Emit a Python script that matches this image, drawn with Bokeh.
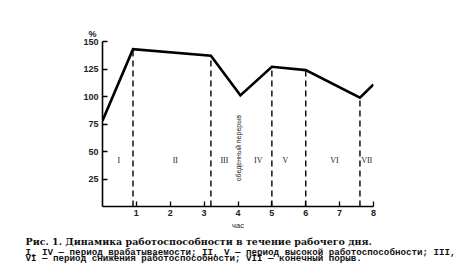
import numpy as np
from bokeh.plotting import figure
from bokeh.models import Range1d, FixedTicker, Label, Title
from bokeh.embed import file_html
from bokeh.resources import INLINE

# Data
hours = [0.0, 0.9, 3.2, 4.07, 5.0, 6.0, 7.6, 8.0]
performance = [78, 143, 137, 101, 127, 124, 99, 111]
boundary_idx = [1, 2, 4, 5, 6]           # curve points where period boundaries lie
period_names = ["I", "II", "III", "IV", "V", "VI", "VII"]
period_centers = [0.48, 2.15, 3.6, 4.6, 5.4, 6.85, 7.8]
x_ticks = [1, 2, 3, 4, 5, 6, 7, 8]
y_ticks = [25, 50, 75, 100, 125, 150]
lunch_label = "обеденный перерыв"
caption1 = "Рис. 1. Динамика работоспособности в течение рабочего дня."
caption2 = "I, IV — период врабатываемости; II, V — период высокой работоспособности; III,"
caption3 = "VI — период снижения работоспособности; VII — конечный порыв."

p = figure(width=470, height=276, output_backend="svg", toolbar_location=None,
           x_range=Range1d(0, 8), y_range=Range1d(0, 150),
           min_border_left=102, min_border_right=97, min_border_top=41, min_border_bottom=70)
p.outline_line_color = None
p.grid.visible = False

for ax in (p.xaxis, p.yaxis):
    ax.axis_line_width = 1.6
    ax.axis_line_color = "black"
    ax.major_tick_in = 5
    ax.major_tick_out = 0
    ax.major_tick_line_width = 1.3
    ax.minor_tick_line_color = None
    ax.major_label_text_font = "Liberation Sans"
    ax.major_label_text_font_style = "bold"
    ax.major_label_text_font_size = "9px"
    ax.major_label_text_color = "#222222"
p.xaxis.ticker = FixedTicker(ticks=x_ticks)
p.yaxis.ticker = FixedTicker(ticks=y_ticks)
p.xaxis.major_label_standoff = 3
p.yaxis.major_label_standoff = 4
p.xaxis.axis_label = "час"
p.xaxis.axis_label_text_font = "Liberation Sans"
p.xaxis.axis_label_text_font_style = "normal"
p.xaxis.axis_label_text_font_size = "7.5px"
p.xaxis.axis_label_text_color = "#222222"
p.xaxis.axis_label_standoff = 2

# dashed boundary lines
bx = [hours[i] for i in boundary_idx]
by = [performance[i] for i in boundary_idx]
p.segment(x0=bx, y0=[0] * len(bx), x1=bx, y1=by, line_color="black",
          line_width=1.4, line_dash="6 4")

# main curve
p.line(hours, performance, line_color="black", line_width=2.6, line_join="miter")


def lab(x, y, text, **kw):
    opts = dict(text_font="Liberation Serif", text_font_size="8px", text_align="center",
                text_baseline="middle", text_color="#222222")
    opts.update(kw)
    p.add_layout(Label(x=x, y=y, text=text, **opts))


# period labels
for name, cx in zip(period_names, period_centers):
    lab(cx, 42, name)

# lunch break label
lab(4.0, 53, lunch_label, angle=np.pi / 2, text_font="Liberation Sans", text_font_size="7px")

# "%" above the y axis
p.add_layout(Title(text="%", align="left", offset=-14, standoff=6,
                   text_font="Liberation Sans", text_font_style="bold",
                   text_font_size="9px", text_color="#222222"), "above")

# caption below
cap_fonts = [("DejaVu Serif", "9.5px", 2), ("Liberation Mono", "9.2px", -6),
             ("Liberation Mono", "9.2px", -8)]
for txt, (fnt, size, so) in zip([caption1, caption2, caption3], cap_fonts):
    p.add_layout(Title(text=txt, align="left", offset=-77, standoff=so,
                       text_font=fnt, text_font_style="bold", text_font_size=size,
                       text_color="#111111"), "below")

open("out.html", "w").write(file_html(p, INLINE))
